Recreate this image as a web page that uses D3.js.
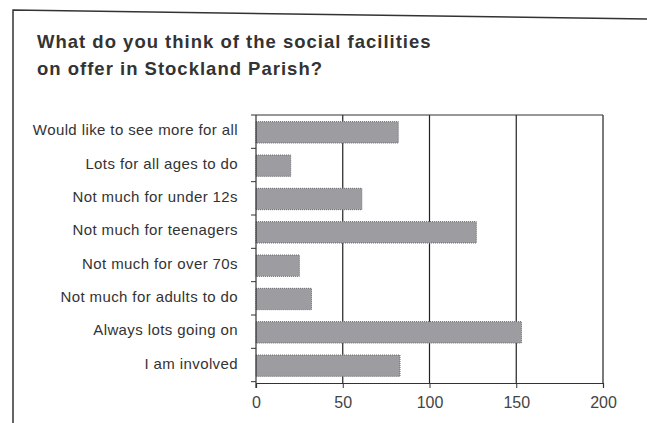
<!DOCTYPE html>
<html>
<head>
<meta charset="utf-8">
<script src="https://cdn.jsdelivr.net/npm/d3@7"></script>
<style>
  body { margin: 0; background: #fff; }
  svg { display: block; font-family: "Liberation Sans", Arial, sans-serif; }
</style>
</head>
<body>
<div id="chart"></div>
<script>
"use strict";

// survey answers, top to bottom
const categories = [
    "Would like to see more for all",
    "Lots for all ages to do",
    "Not much for under 12s",
    "Not much for teenagers",
    "Not much for over 70s",
    "Not much for adults to do",
    "Always lots going on",
    "I am involved"
];
const responses = [82, 20, 61, 127, 25, 32, 153, 83];
const xTicks = [0, 50, 100, 150, 200];
const titleLines = [
    "What do you think of the social facilities",
    "on offer in Stockland Parish?"
];

(function () {
    const width = 647;
    const height = 423;
    const plot = { left: 256, right: 603, top: 115, bottom: 383 };

    const svg = d3.select("#chart")
        .append("svg")
        .attr("width", width)
        .attr("height", height);

    // scanned page frame, slightly skewed
    svg.append("path")
        .attr("d", "M13,423 L13,10 L647,19")
        .attr("fill", "none")
        .attr("stroke", "#333")
        .attr("stroke-width", 1.5);

    svg.selectAll(".title")
        .data(titleLines)
        .enter()
        .append("text")
        .attr("class", "title")
        .attr("x", 37)
        .attr("y", (d, i) => 48 + i * 27)
        .attr("font-size", 18.5)
        .attr("font-weight", "bold")
        .attr("letter-spacing", 1)
        .attr("fill", "#333")
        .text(d => d);

    const x = d3.scaleLinear()
        .domain([0, 200])
        .range([plot.left, plot.right]);

    const y = d3.scaleBand()
        .domain(categories)
        .range([plot.top, plot.bottom])
        .paddingInner(0.36)
        .paddingOuter(0.2);

    // vertical grid lines + frame of plot
    const grid = svg.append("g");
    grid.selectAll("line")
        .data(xTicks.slice(1))
        .enter()
        .append("line")
        .attr("x1", d => x(d))
        .attr("x2", d => x(d))
        .attr("y1", plot.top)
        .attr("y2", plot.bottom)
        .attr("stroke", "#222")
        .attr("stroke-width", 1.2);

    grid.append("line")
        .attr("x1", plot.left)
        .attr("x2", plot.right)
        .attr("y1", plot.top)
        .attr("y2", plot.top)
        .attr("stroke", "#333")
        .attr("stroke-width", 1.2);

    // bars
    svg.append("g")
        .selectAll("rect")
        .data(responses)
        .enter()
        .append("rect")
        .attr("x", x(0))
        .attr("y", (d, i) => y(categories[i]))
        .attr("width", d => x(d) - x(0))
        .attr("height", y.bandwidth())
        .attr("fill", "#9d9da1")
        .attr("stroke", "#6a6a6e")
        .attr("stroke-width", 1)
        .attr("stroke-dasharray", "1,1");

    // y axis: ticks between the categories, labels drawn separately
    const bandEdges = d3.range(categories.length + 1)
        .map(i => plot.top + i * y.step());
    const yAxis = svg.append("g");
    yAxis.append("line")
        .attr("x1", plot.left)
        .attr("x2", plot.left)
        .attr("y1", plot.top)
        .attr("y2", plot.bottom + 5)
        .attr("stroke", "#333")
        .attr("stroke-width", 1.2);
    yAxis.selectAll(".tick")
        .data(bandEdges)
        .enter()
        .append("line")
        .attr("class", "tick")
        .attr("x1", plot.left - 5)
        .attr("x2", plot.left)
        .attr("y1", d => d)
        .attr("y2", d => d)
        .attr("stroke", "#333");

    svg.append("g")
        .selectAll("text")
        .data(categories)
        .enter()
        .append("text")
        .attr("x", 238)
        .attr("y", d => y(d) + y.bandwidth() / 2 - 1)
        .attr("text-anchor", "end")
        .attr("dominant-baseline", "middle")
        .attr("font-size", 15)
        .attr("letter-spacing", 0.4)
        .attr("fill", "#333")
        .text(d => d);

    // x axis
    const xAxis = d3.axisBottom(x)
        .tickValues(xTicks)
        .tickSize(5)
        .tickPadding(9);

    const gx = svg.append("g")
        .attr("transform", `translate(0,${plot.bottom})`)
        .call(xAxis);
    gx.select(".domain")
        .attr("stroke", "#333")
        .attr("stroke-width", 1.2);
    gx.selectAll(".tick line").attr("stroke", "#333");
    gx.selectAll(".tick text")
        .attr("font-family", "\"Liberation Sans\", Arial, sans-serif")
        .attr("font-size", 16)
        .attr("fill", "#444");
})();
</script>
</body>
</html>
